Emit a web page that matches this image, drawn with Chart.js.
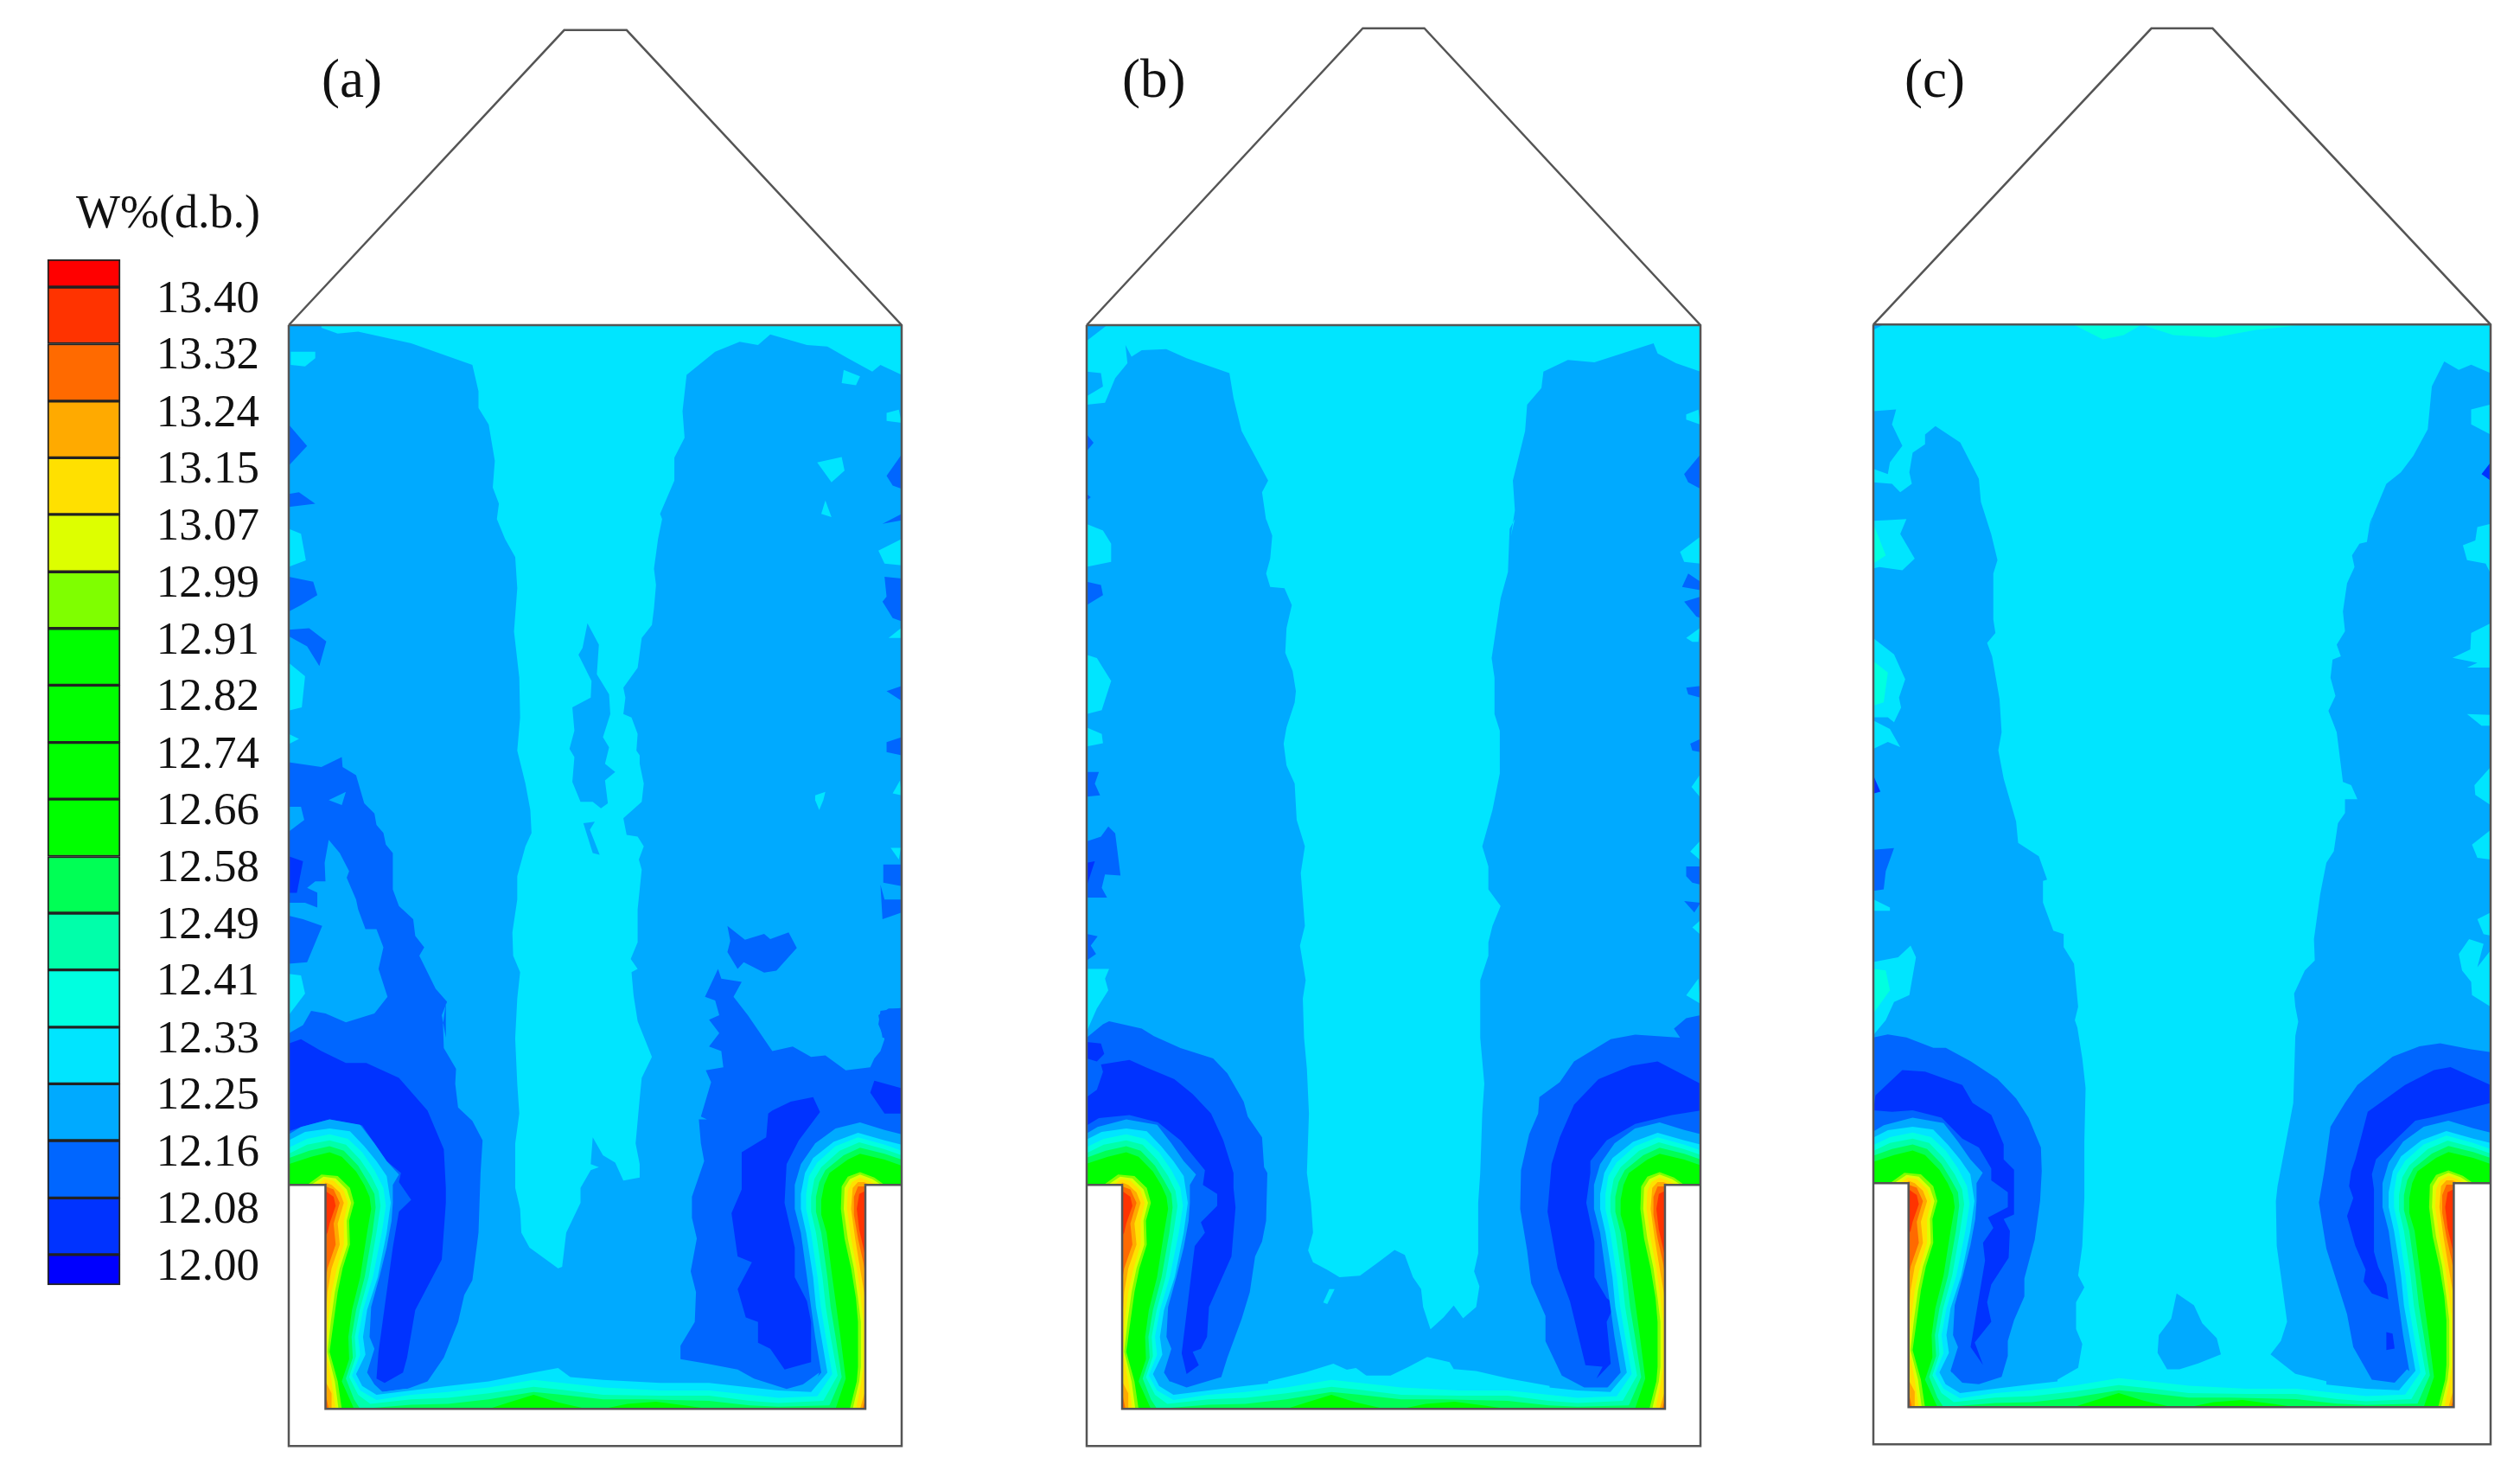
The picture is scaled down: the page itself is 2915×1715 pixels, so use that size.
<!DOCTYPE html>
<html>
<head>
<meta charset="utf-8">
<title>W%(d.b.) contours</title>
<script src="https://cdn.jsdelivr.net/npm/chart.js@4"></script>
<style>
    html, body { margin: 0; background: #fff; overflow: hidden; }
    canvas { position: absolute; filter: blur(0.7px); }
    .note { position: absolute; font-family: "Liberation Serif", serif; color: #111; white-space: nowrap; line-height: 1; }
</style>
</head>
<body>
<div class="note" style="right:2614px;top:218px;font-size:54px">W%(d.b.)</div>
<div class="note" style="left:372px;top:60px;font-size:63px">(a)</div>
<div class="note" style="left:1298px;top:60px;font-size:63px">(b)</div>
<div class="note" style="left:2203px;top:60px;font-size:63px">(c)</div>
<canvas id="scaleBar" width="320" height="1715" style="left:0;top:0"></canvas>
<canvas id="panelA" width="729" height="1715" style="left:324px;top:0"></canvas>
<canvas id="panelB" width="730" height="1715" style="left:1247px;top:0"></canvas>
<canvas id="panelC" width="734" height="1715" style="left:2157px;top:-2px"></canvas>
<script>
// colour bar
const tickValues = [13.4, 13.318, 13.235, 13.153, 13.071, 12.988, 12.906, 12.824, 12.741, 12.659, 12.576, 12.494, 12.412, 12.329, 12.247, 12.165, 12.082, 12.0];
const tickLabels = ['13.40', '13.32', '13.24', '13.15', '13.07', '12.99', '12.91', '12.82', '12.74', '12.66', '12.58', '12.49', '12.41', '12.33', '12.25', '12.16', '12.08', '12.00'];
const barTop = 13.44;
const barBottom = 11.956;
const cellColors = ['#FF0000', '#FF3300', '#FF6A00', '#FFAA00', '#FFE000', '#DDFF00', '#7FFF00', '#00FF00', '#00FF00', '#00FF00', '#00FF00', '#00FF55', '#00FFAA', '#00FFE0', '#00E5FF', '#00AAFF', '#0066FF', '#0033FF', '#0000FF'];

// a contour layer is named by the tick at the top of its colour band
function bandColor(label) {
    return cellColors[tickLabels.indexOf(label) + 1];
}

// ----- bands along the walls, the same in all three silos (wall axis) -----
const wall25 = [[30,470],[60,445],[130,420],[205,438],[240,500],[270,560],[300,605],[285,640],[285,700],[282,760],[270,850],[252,950],[232,1050],[228,1150],[240,1190],[222,1270],[240,1310],[260,1335],[310,1325],[370,1320],[630,1320],[1060,1320],[1170,1325],[1250,1335],[1300,1325],[1335,1270],[1320,1150],[1310,1050],[1300,950],[1285,800],[1270,720],[1270,640],[1285,570],[1320,500],[1370,450],[1430,430],[1490,455],[1532,470],[1532,640],[1443,640],[1443,1392],[120,1392],[120,640],[30,640]];
const wall33 = [[30,490],[70,462],[130,450],[180,460],[215,510],[245,560],[270,610],[280,700],[270,800],[248,950],[222,1060],[212,1150],[218,1210],[195,1275],[210,1315],[245,1345],[330,1330],[420,1315],[520,1300],[630,1270],[690,1255],[720,1285],[800,1295],[940,1305],[1060,1305],[1160,1320],[1230,1330],[1310,1335],[1350,1270],[1335,1150],[1322,1050],[1315,950],[1298,800],[1285,720],[1285,670],[1295,600],[1315,550],[1365,495],[1425,465],[1490,490],[1532,505],[1532,640],[1443,640],[1443,1392],[120,1392],[120,640],[30,640]];
const wall41 = [[30,515],[75,485],[130,470],[175,485],[210,530],[240,590],[262,650],[268,710],[258,800],[236,950],[212,1060],[200,1150],[205,1210],[185,1280],[205,1330],[245,1362],[330,1345],[420,1335],[520,1320],[630,1295],[700,1305],[800,1320],[940,1330],[1060,1330],[1160,1345],[1230,1355],[1325,1350],[1362,1275],[1346,1150],[1334,1050],[1326,950],[1310,800],[1298,720],[1298,670],[1305,610],[1325,565],[1370,510],[1425,480],[1490,505],[1532,525],[1532,640],[1443,640],[1443,1392],[120,1392],[120,640],[30,640]];
const wall49 = [[30,535],[75,505],[130,490],[170,505],[205,555],[232,610],[250,660],[255,710],[245,800],[226,950],[204,1060],[192,1150],[195,1215],[178,1285],[200,1345],[230,1375],[330,1360],[420,1355],[520,1340],[630,1318],[700,1328],[800,1345],[940,1348],[1060,1348],[1160,1365],[1230,1372],[1340,1365],[1375,1280],[1358,1150],[1346,1050],[1338,950],[1322,800],[1310,730],[1310,680],[1318,620],[1335,580],[1380,525],[1428,497],[1490,520],[1532,540],[1532,640],[1443,640],[1443,1392],[120,1392],[120,640],[30,640]];
const wall58 = [[30,550],[80,525],[130,510],[165,525],[200,575],[222,625],[240,670],[243,715],[235,800],[216,950],[195,1060],[184,1150],[187,1220],[170,1290],[190,1360],[205,1392],[330,1378],[420,1375],[520,1360],[630,1335],[700,1345],[800,1360],[900,1360],[1060,1365],[1160,1380],[1230,1385],[1355,1380],[1385,1285],[1370,1150],[1358,1050],[1350,950],[1335,800],[1322,730],[1322,680],[1330,630],[1345,590],[1390,540],[1430,515],[1490,535],[1532,555],[1532,640],[1443,640],[1443,1392],[120,1392],[120,640],[30,640]];
const wall66Left = [[30,570],[85,545],[130,530],[160,545],[195,595],[215,640],[228,680],[232,720],[222,800],[205,950],[185,1060],[176,1150],[178,1225],[160,1300],[190,1392],[120,1392],[120,640],[30,640]];
const wall66Right = [[1532,575],[1490,555],[1430,535],[1400,555],[1355,600],[1342,640],[1335,690],[1335,740],[1348,800],[1362,950],[1372,1050],[1382,1150],[1395,1290],[1370,1392],[1443,1392],[1443,640],[1532,640]];
const floor66Left = [[520,1392],[570,1370],[630,1345],[690,1370],[760,1392]];
const floor66Right = [[800,1392],[860,1375],[930,1368],[1000,1380],[1060,1392]];
const wall99Left = [[75,640],[110,605],[150,610],[180,650],[190,700],[178,760],[180,840],[162,920],[150,1000],[140,1100],[130,1200],[150,1300],[160,1392],[120,1392],[120,640]];
const wall99Right = [[1490,640],[1465,615],[1430,597],[1400,612],[1385,645],[1383,720],[1392,820],[1408,920],[1420,1020],[1425,1100],[1425,1250],[1422,1300],[1405,1392],[1443,1392],[1443,640]];
const wall07Left = [[85,640],[115,612],[145,618],[172,655],[183,700],[172,760],[174,840],[155,920],[143,1000],[133,1100],[125,1200],[143,1300],[152,1392],[120,1392],[120,640]];
const wall07Right = [[1482,640],[1460,620],[1430,605],[1405,620],[1392,650],[1390,720],[1400,820],[1415,920],[1425,1020],[1432,1100],[1432,1250],[1428,1300],[1412,1392],[1443,1392],[1443,640]];
const wall15Left = [[100,640],[118,620],[140,625],[165,660],[175,700],[165,760],[165,840],[148,920],[135,1000],[126,1100],[122,1200],[135,1300],[145,1392],[120,1392],[120,640]];
const wall15Right = [[1470,640],[1450,625],[1430,615],[1410,630],[1400,660],[1398,720],[1408,820],[1422,920],[1432,1020],[1438,1100],[1438,1250],[1432,1310],[1420,1392],[1443,1392],[1443,640]];
const wall24Left = [[115,640],[120,632],[135,640],[155,665],[165,700],[150,770],[155,840],[135,920],[125,1000],[120,1100],[120,1300],[135,1340],[135,1392],[120,1392],[120,640]];
const wall24Right = [[1455,640],[1440,630],[1425,630],[1412,650],[1408,720],[1418,820],[1430,920],[1440,1000],[1443,1050],[1443,1330],[1430,1392],[1443,1392],[1443,640]];
const wall32Left = [[120,645],[140,655],[155,700],[140,770],[145,840],[125,920],[120,960]];
const wall32LeftLow = [[120,1340],[128,1392],[120,1392]];
const wall32Right = [[1443,645],[1425,645],[1415,680],[1415,740],[1425,820],[1438,900],[1443,940]];
const wall32RightLow = [[1443,1360],[1436,1392],[1443,1392]];
const wall40Left = [[120,660],[140,680],[145,710],[130,770],[125,800],[120,810]];
const wall40Right = [[1443,660],[1428,670],[1422,720],[1428,790],[1443,880]];

const wallLayers = [
    ['12.25', wall25], ['12.33', wall33], ['12.41', wall41], ['12.49', wall49], ['12.58', wall58],
    ['12.66', wall66Left], ['12.66', wall66Right], ['12.66', floor66Left], ['12.66', floor66Right],
    ['12.99', wall99Left], ['12.99', wall99Right], ['13.07', wall07Left], ['13.07', wall07Right],
    ['13.15', wall15Left], ['13.15', wall15Right], ['13.24', wall24Left], ['13.24', wall24Right],
    ['13.32', wall32Left], ['13.32', wall32LeftLow], ['13.32', wall32Right], ['13.32', wall32RightLow],
    ['13.40', wall40Left], ['13.40', wall40Right]
];

// ----- silo (a) -----
const aOutline = [[30,-2248],[705,-3239],[858,-3239],[1532,-2248],[1532,1517],[30,1517],[30,-2248]];
const aRoofBase = [[30,-2248],[1532,-2248]];
const aHopper = [[30,640],[120,640],[120,1392],[1443,1392],[1443,640],[1532,640]];
const aBase = [[30,-2248],[1532,-2248],[1532,640],[1443,640],[1443,1392],[120,1392],[120,640],[30,640]];
const aColumn = [[110,-2248],[110,-2239],[150,-2220],[200,-2226],[330,-2187],[480,-2114],[495,-2026],[495,-1970],[520,-1914],[535,-1792],[530,-1703],[545,-1648],[540,-1597],[560,-1530],[585,-1469],[590,-1364],[582,-1219],[595,-1064],[597,-930],[590,-819],[610,-708],[622,-619],[625,-542],[610,-497],[590,-397],[590,-319],[578,-208],[580,-130],[597,-75],[590,14],[585,145],[585,150],[590,300],[595,400],[585,500],[585,650],[597,720],[600,800],[620,850],[690,920],[700,915],[710,800],[745,700],[745,650],[770,590],[790,580],[770,570],[775,480],[800,540],[830,565],[850,625],[890,615],[890,570],[880,500],[890,350],[895,280],[920,210],[885,90],[875,3],[870,-75],[885,-86],[868,-119],[885,-175],[885,-286],[895,-419],[888,-453],[900,-497],[885,-530],[858,-536],[850,-592],[895,-647],[900,-708],[890,-775],[890,-803],[882,-819],[885,-875],[870,-930],[850,-942],[855,-997],[850,-1030],[885,-1097],[895,-1197],[920,-1241],[925,-1297],[930,-1375],[925,-1430],[935,-1530],[945,-1597],[940,-1614],[975,-1726],[975,-1803],[1000,-1870],[995,-1959],[1005,-2081],[1075,-2159],[1135,-2192],[1180,-2181],[1210,-2217],[1300,-2181],[1350,-2176],[1400,-2137],[1460,-2092],[1480,-2114],[1532,-2081],[1532,-2248]];
const aMidIsland = [[762,-1247],[790,-1175],[785,-1075],[815,-1008],[818,-942],[800,-864],[815,-830],[805,-775],[830,-747],[805,-719],[812,-642],[795,-625],[775,-647],[745,-647],[725,-714],[730,-797],[718,-825],[730,-886],[725,-964],[770,-997],[772,-1053],[740,-1141],[750,-1164]];
const aMidSliver = [[752,-575],[780,-580],[768,-553],[792,-469],[775,-475]];
const aCoolLeft = [[30,-780],[110,-764],[160,-797],[162,-764],[195,-736],[215,-642],[240,-608],[245,-569],[262,-542],[268,-503],[285,-475],[285,-353],[300,-297],[335,-253],[340,-197],[362,-158],[350,-130],[390,-19],[418,25],[405,70],[415,145],[415,30],[408,100],[410,180],[440,250],[438,300],[445,380],[480,425],[505,490],[500,600],[495,800],[480,960],[460,1010],[445,1100],[410,1220],[370,1300],[320,1325],[255,1335],[215,1290],[120,1392],[120,640],[30,640]];
const aCoolRight = [[1082,-86],[1090,-53],[1140,-42],[1120,8],[1155,70],[1180,120],[1215,190],[1265,175],[1310,210],[1345,205],[1395,255],[1455,245],[1465,215],[1480,190],[1490,150],[1475,100],[1480,55],[1532,45],[1532,640],[1443,640],[1443,1392],[1300,1392],[1330,1270],[1290,1310],[1250,1325],[1170,1290],[1130,1260],[1055,1240],[990,1225],[990,1180],[1025,1100],[1028,1000],[1015,930],[1030,820],[1018,750],[1018,680],[1048,560],[1040,500],[1035,420],[1055,420],[1040,410],[1065,295],[1052,255],[1095,245],[1090,190],[1060,175],[1085,130],[1060,85],[1085,70],[1075,20],[1050,8]];
const aBlob = [[1105,-230],[1148,-184],[1195,-203],[1210,-186],[1255,-208],[1275,-156],[1225,-80],[1195,-73],[1145,-108],[1130,-86],[1105,-142],[1112,-180]];
const aLeftIsland = [[128,-519],[155,-475],[178,-414],[172,-392],[195,-319],[200,-286],[218,-219],[245,-219],[262,-158],[250,-86],[272,8],[240,64],[170,94],[120,64],[85,55],[65,103],[30,131],[30,-103],[75,-108],[112,-230],[65,-253],[30,-264],[30,-308],[70,-308],[100,-292],[100,-342],[75,-358],[95,-380],[120,-380],[118,-442]];
const aLeftIsland2 = [[30,-630],[60,-630],[68,-586],[30,-547]];
const aLeftIsland3 = [[128,-653],[170,-680],[160,-636]];
const aDarkLeft = [[30,165],[60,150],[110,190],[170,230],[220,230],[300,280],[370,390],[410,520],[415,650],[415,700],[405,890],[340,1060],[320,1220],[310,1270],[265,1305],[245,1290],[250,1200],[260,1100],[285,850],[300,730],[330,690],[300,630],[305,600],[270,560],[240,500],[210,440],[130,420],[60,445],[30,460]];
const aDarkRight = [[1215,390],[1260,360],[1315,345],[1332,395],[1280,490],[1250,570],[1245,700],[1270,850],[1270,950],[1300,1030],[1310,1100],[1310,1235],[1245,1260],[1210,1190],[1180,1170],[1180,1100],[1150,1085],[1130,990],[1165,900],[1130,880],[1115,735],[1140,655],[1140,530],[1200,480],[1205,400]];
const aDarkEdge = [[1465,290],[1532,315],[1532,400],[1490,400],[1455,330]];
const aDarkSpot = [[30,-464],[65,-447],[50,-341],[30,-341]];
const aCoolPatches = [
    [[30,-1914],[75,-1842],[30,-1776]],
    [[30,-1681],[55,-1687],[95,-1648],[30,-1637]],
    [[1532,-1814],[1495,-1742],[1510,-1709],[1532,-1698]],
    [[1485,-1581],[1532,-1614],[1532,-1592]],
    [[30,-1403],[90,-1386],[100,-1341],[60,-1308],[30,-1286]],
    [[30,-1225],[80,-1230],[122,-1186],[105,-1103],[75,-1169],[30,-1203]],
    [[1532,-1397],[1490,-1403],[1495,-1336],[1485,-1319],[1510,-1264],[1532,-1253]],
    [[1495,-1019],[1532,-1036],[1532,-986]],
    [[1495,-847],[1532,-864],[1532,-803],[1495,-814]],
    [[1487,-436],[1532,-436],[1532,-364],[1487,-375]],
    [[1480,-369],[1490,-319],[1532,-319],[1532,-275],[1485,-253]],
    [[1475,70],[1500,47],[1532,47],[1532,145],[1485,145]]
];
const aWetPatches = [
    [[35,-2159],[95,-2159],[95,-2137],[70,-2109],[35,-2114]],
    [[1390,-2098],[1430,-2076],[1420,-2046],[1385,-2053]],
    [[1495,-1953],[1525,-1964],[1532,-1920],[1495,-1926]],
    [[1325,-1787],[1385,-1805],[1392,-1759],[1360,-1720]],
    [[1345,-1659],[1360,-1603],[1335,-1614]],
    [[30,-1564],[60,-1547],[72,-1458],[30,-1436]],
    [[30,-1114],[70,-1069],[62,-964],[30,-953]],
    [[30,-875],[55,-858],[30,-841]],
    [[1475,-1491],[1532,-1530],[1532,-1441],[1490,-1447]],
    [[1500,-1197],[1530,-1230],[1532,-1197]],
    [[1510,-675],[1528,-719],[1532,-669]],
    [[1505,-492],[1530,-492],[1525,-453]],
    [[30,-69],[60,-64],[70,-3],[30,70]],
    [[1320,-669],[1345,-680],[1340,-653],[1330,-619],[1320,-653]]
];
const aLayers = [
    ['12.25', aBase], ['12.33', aColumn], ['12.25', aMidIsland], ['12.25', aMidSliver],
    ['12.16', aCoolLeft], ['12.16', aCoolRight], ['12.16', aBlob],
    ['12.25', aLeftIsland], ['12.25', aLeftIsland2], ['12.25', aLeftIsland3],
    ['12.08', aDarkLeft], ['12.08', aDarkRight], ['12.08', aDarkEdge], ['12.08', aDarkSpot]
].concat(aCoolPatches.map(p => ['12.16', p]), aWetPatches.map(p => ['12.33', p]));

// ----- silo (b) -----
const bOutline = [[35,-2248],[712,-3245],[863,-3245],[1540,-2248],[1540,1517],[35,1517],[35,-2248]];
const bRoofBase = [[35,-2248],[1540,-2248]];
const bHopper = [[35,640],[122,640],[122,1392],[1453,1392],[1453,640],[1540,640]];
const bBase = [[35,-2248],[1540,-2248],[1540,640],[1453,640],[1453,1392],[122,1392],[122,640],[35,640]];
const bColumn = [[35,-2248],[35,-1981],[80,-1987],[105,-2070],[135,-2120],[130,-2181],[145,-2142],[170,-2164],[230,-2167],[280,-2137],[385,-2087],[395,-2003],[415,-1892],[480,-1726],[465,-1687],[475,-1592],[475,-1597],[490,-1541],[485,-1464],[475,-1414],[485,-1369],[520,-1364],[538,-1308],[525,-1230],[522,-1147],[540,-1086],[548,-1019],[545,-980],[525,-897],[518,-842],[525,-769],[545,-708],[550,-586],[570,-497],[560,-408],[570,-230],[558,-164],[572,-47],[565,14],[568,145],[575,250],[580,400],[575,600],[585,700],[590,800],[578,860],[590,900],[625,925],[655,950],[705,945],[750,900],[790,858],[815,875],[835,950],[855,990],[860,1050],[878,1125],[910,1085],[935,1045],[958,1088],[990,1050],[998,980],[985,930],[995,870],[995,700],[1000,600],[1005,400],[1010,300],[1000,145],[1000,36],[1000,-47],[1020,-130],[1020,-175],[1030,-230],[1050,-297],[1020,-353],[1020,-430],[1005,-497],[1030,-619],[1048,-742],[1048,-886],[1035,-942],[1035,-1064],[1028,-1130],[1050,-1330],[1068,-1419],[1072,-1564],[1085,-1597],[1075,-1539],[1085,-1626],[1080,-1726],[1110,-1892],[1115,-1981],[1150,-2037],[1155,-2092],[1215,-2131],[1280,-2123],[1425,-2187],[1435,-2153],[1480,-2120],[1540,-2092],[1540,-2248]];
const bCorner = [[35,-2248],[85,-2248],[35,-2195]];
const bTopBlob = [[35,-2092],[70,-2087],[75,-2042],[35,-2009]];
const bFloorWet = [[480,1300],[570,1270],[640,1240],[705,1280],[780,1280],[825,1250],[870,1218],[925,1235],[935,1258],[990,1265],[1070,1290],[1170,1315],[1170,1340],[480,1340]];
const bSliver = [[615,1035],[630,990],[643,990],[625,1040]];
const bCoolLeft = [[35,145],[75,100],[90,90],[170,115],[200,140],[265,180],[345,215],[380,265],[420,360],[430,410],[465,480],[470,580],[478,600],[475,760],[465,830],[448,880],[435,1000],[415,1090],[380,1220],[365,1285],[280,1320],[240,1300],[122,1392],[122,640],[35,640]];
const bCoolRight = [[1540,70],[1505,80],[1475,115],[1490,145],[1380,135],[1320,150],[1230,225],[1195,295],[1145,345],[1142,400],[1120,470],[1100,590],[1098,720],[1115,860],[1125,970],[1160,1080],[1160,1165],[1200,1280],[1255,1320],[1315,1320],[1345,1275],[1453,1392],[1453,640],[1540,640]];
const bDarkLeft = [[35,345],[60,320],[75,260],[70,235],[140,220],[180,245],[250,285],[295,335],[340,400],[370,490],[395,600],[395,650],[400,715],[390,880],[335,1050],[330,1150],[315,1190],[295,1200],[310,1245],[280,1275],[268,1205],[300,845],[325,800],[315,765],[355,710],[355,670],[320,640],[325,590],[265,490],[210,430],[140,405],[65,415],[35,440]];
const bDarkSpot = [[35,160],[70,165],[78,200],[60,225],[35,215]];
const bDarkRight = [[1230,370],[1290,285],[1370,240],[1435,225],[1540,300],[1540,390],[1470,405],[1380,435],[1310,490],[1270,560],[1270,600],[1260,700],[1280,830],[1280,950],[1310,1020],[1330,1040],[1310,1100],[1320,1240],[1285,1290],[1300,1250],[1258,1245],[1220,1030],[1190,920],[1165,730],[1175,570],[1195,480]];
const bDarkEdge = [[35,-442],[55,-447],[35,-364]];
const bCoolPatches = [
    [[35,-1881],[52,-1853],[35,-1825]],
    [[35,-1681],[45,-1670],[35,-1659]],
    [[1540,-1814],[1500,-1748],[1510,-1720],[1540,-1698]],
    [[35,-1386],[70,-1375],[75,-1341],[35,-1308]],
    [[1495,-1369],[1510,-1414],[1540,-1386],[1540,-1358]],
    [[1500,-1319],[1540,-1336],[1540,-1264],[1530,-1269]],
    [[1505,-1030],[1540,-1036],[1540,-997],[1510,-1008]],
    [[1515,-842],[1540,-858],[1540,-814],[1520,-819]],
    [[35,-747],[65,-747],[55,-708],[68,-669],[35,-664]],
    [[35,-514],[70,-530],[88,-564],[105,-541],[118,-399],[80,-403],[72,-358],[85,-325],[35,-325]],
    [[1505,-430],[1540,-430],[1540,-369],[1520,-375],[1505,-397]],
    [[1500,-314],[1540,-308],[1525,-275]],
    [[35,-203],[62,-195],[45,-164],[58,-136],[35,-114]]
];
const bWetPatches = [
    [[1505,-1948],[1535,-1964],[1540,-1914],[1505,-1931]],
    [[35,-1580],[75,-1558],[95,-1514],[95,-1453],[35,-1436]],
    [[35,-1141],[60,-1130],[95,-1053],[72,-955],[35,-942]],
    [[35,-897],[72,-875],[75,-844],[35,-833]],
    [[35,-86],[90,-86],[80,-53],[88,-14],[60,47],[35,125]],
    [[1490,-1486],[1538,-1536],[1540,-1447],[1500,-1453]],
    [[1505,-1197],[1538,-1230],[1535,-1184],[1520,-1184]],
    [[1518,-697],[1538,-736],[1538,-664]],
    [[1515,-480],[1538,-514],[1538,-453]],
    [[1520,-225],[1538,-247],[1538,-203]],
    [[1505,3],[1535,-53],[1540,31]]
];
const bLayers = [
    ['12.25', bBase], ['12.33', bColumn], ['12.25', bCorner], ['12.25', bTopBlob], ['12.33', bSliver],
    ['12.16', bCoolLeft], ['12.16', bCoolRight], ['12.33', bFloorWet],
    ['12.08', bDarkLeft], ['12.08', bDarkRight], ['12.08', bDarkSpot]
].concat(bCoolPatches.map(p => ['12.16', p]), bWetPatches.map(p => ['12.33', p]), [['12.08', bDarkEdge]]);

// ----- silo (c) -----
const cOutline = [[35,-2244],[707,-3239],[855,-3239],[1527,-2244],[1527,1517],[35,1517],[35,-2244]];
const cRoofBase = [[35,-2244],[1527,-2244]];
const cHopper = [[35,640],[120,640],[120,1392],[1438,1392],[1438,640],[1527,640]];
const cBase = [[35,-2244],[1527,-2244],[1527,640],[1438,640],[1438,1392],[120,1392],[120,640],[35,640]];
const cColumn = [[35,-2244],[35,-1714],[80,-1709],[100,-1681],[128,-1709],[122,-1748],[130,-1814],[160,-1842],[160,-1875],[185,-1903],[245,-1848],[290,-1726],[295,-1648],[320,-1539],[310,-1597],[335,-1453],[325,-1408],[325,-1253],[330,-1208],[310,-1175],[322,-1130],[340,-986],[345,-875],[337,-814],[350,-719],[380,-575],[385,-503],[435,-458],[455,-380],[445,-375],[445,-303],[470,-208],[495,-197],[495,-153],[520,-97],[530,47],[522,92],[535,145],[530,50],[525,90],[540,220],[548,320],[545,500],[545,690],[540,850],[530,950],[545,990],[525,1040],[525,1130],[540,1180],[530,1260],[480,1300],[480,1340],[1130,1340],[1130,1305],[1055,1280],[995,1215],[1020,1170],[1035,1105],[1020,950],[1010,850],[1008,700],[1012,650],[1050,370],[1055,145],[1062,97],[1055,47],[1052,3],[1078,-75],[1102,-108],[1100,-180],[1115,-330],[1130,-436],[1148,-475],[1158,-569],[1175,-603],[1175,-650],[1205,-650],[1190,-697],[1170,-708],[1155,-875],[1135,-947],[1152,-997],[1140,-1058],[1145,-1119],[1165,-1130],[1155,-1169],[1175,-1214],[1170,-1280],[1180,-1375],[1198,-1430],[1192,-1469],[1210,-1508],[1228,-1514],[1235,-1575],[1240,-1597],[1235,-1539],[1240,-1592],[1275,-1709],[1310,-1748],[1340,-1803],[1375,-1892],[1385,-2037],[1415,-2120],[1450,-2092],[1480,-2109],[1527,-2081],[1527,-2244]];
const cTopBlob = [[35,-1953],[90,-1959],[80,-1909],[105,-1837],[75,-1781],[70,-1742],[35,-1759]];
const cCorner = [[35,-2244],[60,-2244],[35,-2226]];
const cTopWetLeft = [[520,-2243],[590,-2194],[640,-2209],[680,-2241]];
const cTopWetRight = [[690,-2241],[760,-2209],[860,-2201],[960,-2226],[1060,-2241]];
const cFloorIsland = [[768,1010],[810,1050],[830,1110],[865,1160],[875,1215],[820,1245],[775,1265],[745,1265],[722,1210],[725,1150],[755,1095]];
const cCoolLeft = [[35,150],[70,140],[115,150],[180,185],[210,185],[270,230],[335,290],[380,355],[410,420],[440,520],[442,600],[438,700],[425,830],[400,960],[400,1020],[375,1100],[360,1170],[360,1220],[345,1290],[290,1315],[250,1310],[225,1275],[120,1392],[120,640],[35,640]];
const cCoolRight = [[1527,200],[1480,190],[1405,170],[1355,180],[1290,215],[1205,310],[1175,370],[1140,450],[1125,600],[1112,705],[1130,860],[1180,1080],[1195,1190],[1240,1300],[1295,1310],[1325,1265],[1438,1392],[1438,640],[1527,640]];
const cCoolEdge = [[35,-480],[85,-486],[65,-408],[60,-347],[35,-342]];
const cDarkLeft = [[40,345],[105,260],[160,265],[250,310],[275,370],[320,410],[350,510],[350,560],[375,595],[375,745],[350,760],[365,800],[362,890],[320,980],[310,1040],[320,1105],[280,1175],[300,1250],[270,1190],[305,900],[300,840],[325,790],[312,755],[360,720],[360,670],[320,630],[320,590],[290,520],[250,490],[200,420],[130,395],[80,400],[35,395]];
const cDarkRight = [[1230,400],[1200,560],[1190,600],[1185,650],[1195,690],[1180,750],[1200,850],[1225,930],[1220,970],[1240,1010],[1280,1030],[1275,980],[1255,920],[1245,870],[1245,660],[1240,610],[1250,560],[1300,490],[1345,430],[1380,420],[1470,390],[1527,370],[1527,310],[1430,250],[1390,260],[1320,310]];
const cDarkSpot = [[1275,1140],[1290,1145],[1295,1195],[1275,1200]];
const cDarkEdges = [
    [[35,-730],[52,-675],[35,-669]],
    [[1527,-1781],[1505,-1742],[1527,-1720]]
];
const cWetPatches = [
    [[1480,-1959],[1525,-1975],[1527,-1875],[1480,-1909]],
    [[70,-1587],[115,-1591],[100,-1541],[135,-1458],[105,-1419],[50,-1430],[35,-1425],[35,-1585]],
    [[35,-1191],[85,-1136],[112,-1053],[97,-991],[102,-958],[85,-908],[70,-925],[35,-925]],
    [[35,-914],[75,-886],[100,-825],[70,-842],[35,-819]],
    [[35,-314],[75,-286],[75,-275],[35,-275]],
    [[35,-103],[95,-119],[125,-158],[138,-119],[122,8],[85,31],[65,92],[35,142]],
    [[1460,-1503],[1490,-1519],[1495,-1564],[1527,-1575],[1527,-1408],[1515,-1441],[1470,-1453]],
    [[1480,-1208],[1527,-1241],[1527,-1092],[1470,-1092],[1495,-1108],[1435,-1125],[1478,-1153]],
    [[1470,-936],[1527,-933],[1527,-897],[1505,-897]],
    [[1488,-697],[1527,-758],[1527,-630],[1490,-664]],
    [[1482,-497],[1527,-547],[1527,-447],[1495,-453]],
    [[1495,-247],[1527,-269],[1527,-192],[1510,-197]],
    [[1475,-180],[1510,-164],[1495,-86],[1527,-142],[1527,47],[1482,8],[1480,-36],[1458,-75],[1450,-130]]
];
const cTealPatches = [
    [[35,-1575],[65,-1469],[35,-1441]],
    [[35,-1114],[70,-1075],[60,-975],[35,-964]],
    [[35,-80],[65,-75],[75,-8],[35,70]]
];
const cLayers = [
    ['12.25', cBase], ['12.33', cColumn], ['12.25', cTopBlob], ['12.25', cCorner],
    ['12.41', cTopWetLeft], ['12.41', cTopWetRight], ['12.25', cFloorIsland],
    ['12.16', cCoolLeft], ['12.16', cCoolRight], ['12.16', cCoolEdge],
    ['12.08', cDarkLeft], ['12.08', cDarkRight], ['12.08', cDarkSpot]
].concat(cDarkEdges.map(p => ['12.08', p]), cWetPatches.map(p => ['12.33', p]), cTealPatches.map(p => ['12.41', p]));

function toXY(points) {
    return points.map(p => ({ x: p[0], y: p[1] }));
}

function fillLayer(layer, axisId) {
    return {
        data: toXY(layer[1]),
        xAxisID: axisId,
        showLine: true,
        fill: 'shape',
        backgroundColor: bandColor(layer[0]),
        borderWidth: 0,
        pointRadius: 0,
        tension: 0
    };
}

function frameLine(points) {
    return {
        data: toXY(points),
        showLine: true,
        fill: false,
        borderColor: '#555',
        borderWidth: 2.5,
        pointRadius: 0,
        tension: 0,
        clip: false
    };
}

function drawSilo(canvasId, layers, frames, xRange, wallRange) {
    let datasets = layers.map(l => fillLayer(l, 'x'));
    datasets = datasets.concat(wallLayers.map(l => fillLayer(l, 'xWall')));
    datasets = datasets.concat(frames.map(frameLine));

    new Chart(canvasId, {
        type: 'scatter',
        // the first dataset is painted last, so the stack goes in reversed
        data: { datasets: datasets.reverse() },
        options: {
            responsive: false,
            animation: false,
            events: [],
            layout: { padding: { left: 10, right: 10 } },
            plugins: { legend: { display: false }, tooltip: { enabled: false } },
            scales: {
                x: { type: 'linear', display: false, min: xRange[0], max: xRange[1] },
                xWall: { type: 'linear', axis: 'x', display: false, min: wallRange[0], max: wallRange[1] },
                y: { type: 'linear', display: false, reverse: true, min: -3340, max: 1641 }
            }
        }
    });
}

drawSilo('panelA', aLayers, [aOutline, aRoofBase, aHopper], [30, 1532], [30, 1532]);
drawSilo('panelB', bLayers, [bOutline, bRoofBase, bHopper], [35, 1540], [33.5, 1529.5]);
drawSilo('panelC', cLayers, [cOutline, cRoofBase, cHopper], [35, 1527], [34.7, 1532.3]);

// cell edges from the top of the bar to the bottom
const barEdges = [barTop].concat(tickValues, [barBottom]);

new Chart('scaleBar', {
    type: 'bar',
    data: {
        labels: ['W'],
        datasets: cellColors.map((color, i) => ({
            data: [[barEdges[i + 1], barEdges[i]]],
            backgroundColor: color,
            borderColor: '#222',
            borderWidth: 2,
            borderSkipped: false,
            grouped: false,
            barPercentage: 1,
            categoryPercentage: 1,
            clip: false
        }))
    },
    options: {
        responsive: false,
        animation: false,
        events: [],
        layout: { padding: { left: 55, right: 20, top: 300, bottom: 229 } },
        plugins: { legend: { display: false }, tooltip: { enabled: false } },
        scales: {
            x: { display: false },
            y: {
                position: 'right',
                min: barBottom,
                max: barTop,
                grid: { display: false },
                border: { display: false },
                afterBuildTicks: function (axis) {
                    axis.ticks = tickValues.map(v => ({ value: v }));
                },
                afterFit: function (axis) {
                    axis.width = 161;
                },
                ticks: {
                    autoSkip: false,
                    crossAlign: 'far',
                    labelOffset: 15,
                    color: '#111',
                    font: { family: '"Liberation Serif"', size: 53 },
                    callback: function (value, i) {
                        return tickLabels[i];
                    }
                }
            }
        }
    }
});
</script>
</body>
</html>
